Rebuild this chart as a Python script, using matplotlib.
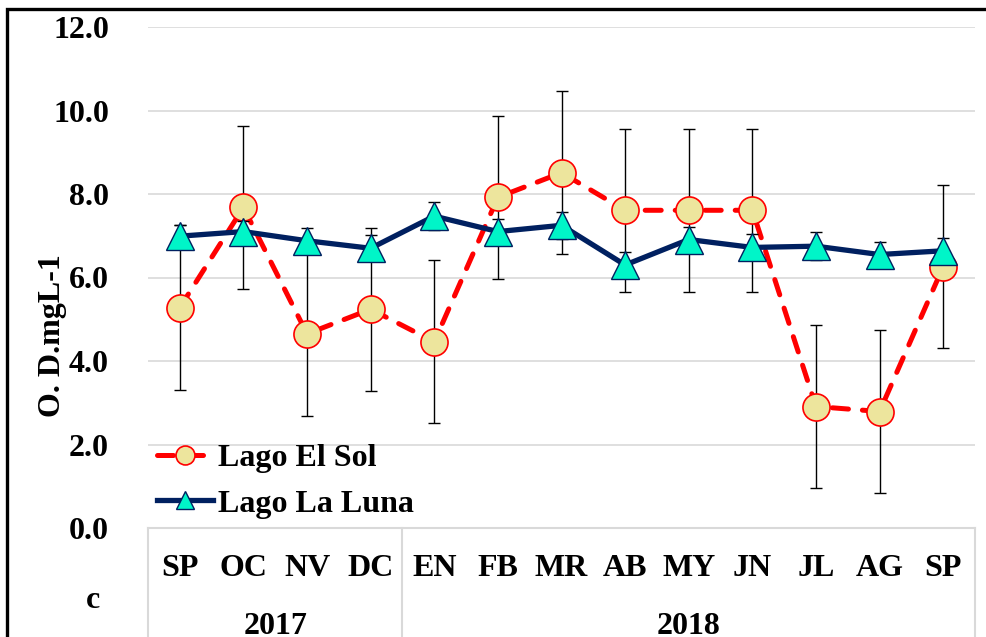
import matplotlib.pyplot as plt
from matplotlib.patches import Rectangle
import numpy


# Data
months = ['SP', 'OC', 'NV', 'DC', 'EN', 'FB', 'MR', 'AB', 'MY', 'JN', 'JL', 'AG', 'SP']
years = ['2017', '2018']
yearSpans = [(0, 3), (4, 12)]

solMean = [5.28, 7.68, 4.65, 5.24, 4.46, 7.92, 8.51, 7.61, 7.61, 7.61, 2.91, 2.79, 6.26]
solErr = [1.97, 1.95, 1.96, 1.95, 1.95, 1.95, 1.95, 1.95, 1.95, 1.95, 1.95, 1.95, 1.95]

lunaMean = [6.99, 7.10, 6.88, 6.70, 7.47, 7.10, 7.25, 6.30, 6.91, 6.72, 6.75, 6.55, 6.64]
lunaErr = [0.27, 0.25, 0.31, 0.31, 0.34, 0.30, 0.33, 0.30, 0.31, 0.31, 0.33, 0.31, 0.31]

# Style
FONT = ['Liberation Serif', 'DejaVu Serif']
plt.rcParams['font.family'] = FONT
plt.rcParams['font.weight'] = 'bold'
plt.rcParams['font.size'] = 23
GRID = '#d9d9d9'

fig = plt.figure(figsize=(9.86, 6.37), dpi=100)
W, H = 986, 637
ax = fig.add_axes([148 / W, 1 - 528 / H, 827 / W, 501 / H])

x = numpy.arange(len(months))

# Lago El Sol
ax.errorbar(x, solMean, yerr=solErr, fmt='none', ecolor='black', elinewidth=1,
            capsize=4.5, capthick=1, zorder=2)
ax.plot(x, solMean, color='#ff0000', linewidth=3.6, linestyle=(0, (3.2, 2.8)),
        dash_capstyle='round', marker='o', markersize=19.5, markerfacecolor='#ede59d',
        markeredgecolor='#ff0000', markeredgewidth=1.2, zorder=3, label='Lago El Sol')

# Lago La Luna
ax.errorbar(x, lunaMean, yerr=lunaErr, fmt='none', ecolor='black', elinewidth=1,
            capsize=4.5, capthick=1, zorder=4)
ax.plot(x, lunaMean, color='#002060', linewidth=3.8, marker='^', markersize=19.5,
        markerfacecolor='#00f5c8', markeredgecolor='#002060', markeredgewidth=1,
        zorder=5, label='Lago La Luna')

ax.set_xlim(-0.5, len(months) - 0.5)
ax.set_ylim(0, 12)
ax.set_yticks(numpy.arange(0, 13, 2))
ax.set_yticklabels([f'{v:.1f}' for v in numpy.arange(0, 13, 2)])
for s in ax.spines.values():
    s.set_visible(False)
ax.grid(axis='y', color=GRID, linewidth=1.2)
ax.set_axisbelow(True)
ax.tick_params(axis='y', length=0, pad=28)
ax.tick_params(axis='x', length=0, pad=19)
ax.set_xticks(x)
ax.set_xticklabels(months)

# Category box below the plot
trans = ax.get_xaxis_transform()
ax.plot([-0.5, len(months) - 0.5], [0, 0], transform=trans, color=GRID, linewidth=1.5, clip_on=False)
for sep in [-0.5, 3.5, len(months) - 0.5]:
    ax.plot([sep, sep], [0, -0.3], transform=trans, color=GRID, linewidth=1.5, clip_on=False)
for yr, (a, b) in zip(years, yearSpans):
    ax.text((a + b) / 2, -0.196, yr, transform=trans, ha='center', va='center')

ax.text(-0.116, 0.383, 'O. D.mgL-1', transform=ax.transAxes, rotation=90,
        ha='center', va='center')
fig.text(93 / W, 1 - 600 / H, 'c', ha='center', va='center')

ax.legend(loc='upper left', bbox_to_anchor=(0.011, 0.168), frameon=False,
          borderpad=0, borderaxespad=0, handlelength=1.75, handletextpad=0.15,
          labelspacing=0.5, markerscale=0.7)

# Outer chart frame
fig.patches.append(Rectangle((7 / W, -0.2), 1.2, 1.2 - 9 / H, transform=fig.transFigure,
                             fill=False, edgecolor='black', linewidth=2.4))

plt.savefig('out.png', dpi=100)
